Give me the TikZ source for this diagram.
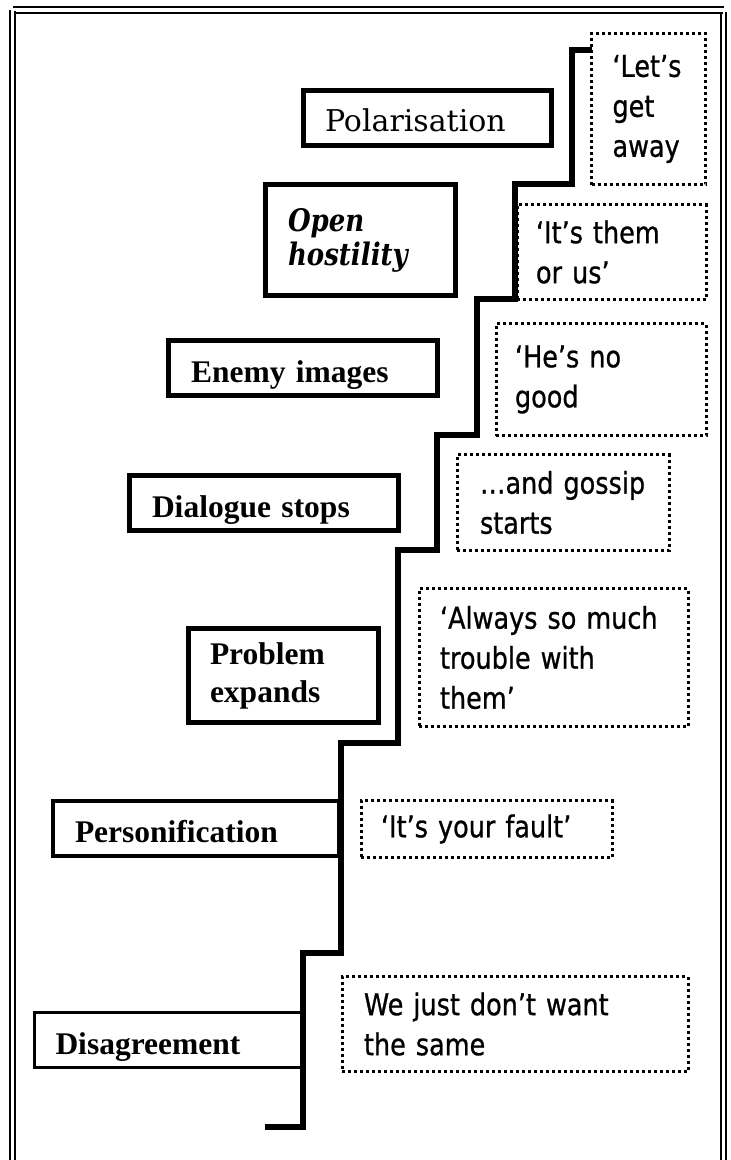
\documentclass[tikz,border=0pt]{standalone}
\usepackage{fontspec}
\newfontfamily\sayfont[FakeStretch=0.85,FakeBold=0.8]{DejaVu Sans}
\newfontfamily\stepfont{Liberation Serif}
\newfontfamily\schfont{DejaVu Serif}
\newfontfamily\openfont[FakeStretch=0.84]{DejaVu Serif}

\begin{document}
\begin{tikzpicture}[
    x=1pt, y=-1pt,
    frame/.style={line width=2pt},
    stair/.style={line width=5.5pt},
    stepbox/.style={draw, line width=5pt, inner ysep=0pt, align=left,
        font=\stepfont\bfseries\fontsize{31.5}{38}\selectfont},
    oneline/.style={text height=28pt, text depth=0pt},
    saybox/.style={draw, line width=3pt, dash pattern=on 3pt off 3pt,
        inner ysep=0pt, align=left, font=\sayfont\fontsize{30}{40}\selectfont}
]
\useasboundingbox (0,0) rectangle (731,1160);

\draw[frame] (13,7) -- (724,7);
\draw[frame] (15,12.5) -- (723,12.5);
\draw[frame] (10,10) -- (10,1160);
\draw[frame] (15,11) -- (15,1160);
\draw[frame] (721,12) -- (721,1160);
\draw[frame] (726,12) -- (726,1160);

\draw[stair] (265,1127) -- (303,1127) -- (303,953) -- (341,953) -- (341,743)
    -- (398,743) -- (398,550) -- (437,550) -- (437,435) -- (477,435)
    -- (477,299) -- (515,299) -- (515,184) -- (572,184) -- (572,50) -- (592,50);

\node[stepbox, oneline, text height=27pt, font=\schfont\fontsize{30}{36}\selectfont, text width=205pt, inner xsep=21.5pt, minimum height=55pt] (polar) at (427.5,118) {Polarisation};
\node[stepbox, font=\openfont\bfseries\itshape\fontsize{31}{34}\selectfont, text width=145pt, inner xsep=22.5pt, minimum height=111pt] (hostile) at (360.5,240) {Open\\hostility};
\node[stepbox, oneline, text width=224pt, inner xsep=22.5pt, minimum height=55pt] (enemy) at (303,368) {Enemy images};
\node[stepbox, oneline, text width=224pt, inner xsep=22.5pt, minimum height=55pt] (dialog) at (264,503) {Dialogue stops};
\node[stepbox, text width=147pt, inner xsep=21.5pt, minimum height=94pt] (problem) at (283.5,675.5) {Problem\\expands};
\node[stepbox, oneline, line width=4pt, text width=242pt, inner xsep=22pt, minimum height=55pt] (person) at (196,828.5) {Personification};
\node[stepbox, oneline, line width=3pt, text width=224pt, inner xsep=21.5pt, minimum height=55pt] (disagree) at (167.5,1040) {Disagreement};

\node[saybox, text width=72pt, inner xsep=21pt, minimum height=151.5pt] (away) at (648.5,109) {‘Let’s\\get\\away};
\node[saybox, text width=151pt, inner xsep=19pt, minimum height=95pt] (themus) at (611.5,252) {‘It’s them\\or us’};
\node[saybox, text width=172pt, inner xsep=19pt, minimum height=112pt] (nogood) at (601,379.5) {‘He’s no\\good};
\node[saybox, text width=166pt, inner xsep=23pt, minimum height=96pt] (gossip) at (563,502.5) {\mbox{…and gossip}\\starts};
\node[saybox, text width=227pt, inner xsep=21pt, minimum height=138pt] (trouble) at (553.5,657.5) {\mbox{‘Always so much}\\trouble with\\them’};
\node[saybox, text width=211pt, inner xsep=20pt, minimum height=57pt] (fault) at (486.5,829) {\mbox{‘It’s your fault’}};
\node[saybox, text width=302pt, inner xsep=22pt, minimum height=95pt] (same) at (515,1024) {\mbox{We just don’t want}\\the same};
\end{tikzpicture}
\end{document}
